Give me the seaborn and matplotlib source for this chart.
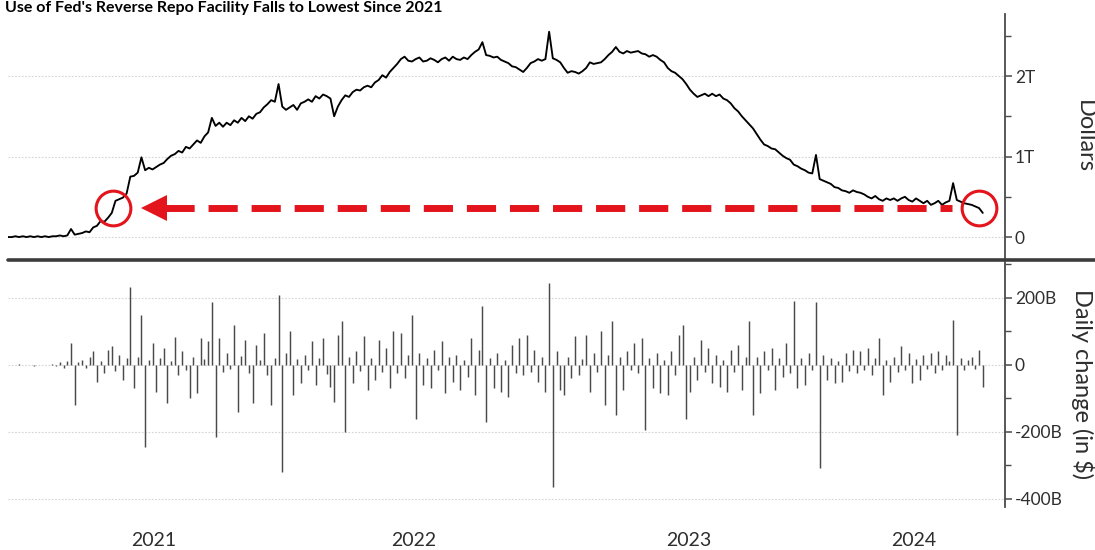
import numpy as np
import pandas as pd
import matplotlib
matplotlib.use("Agg")
import matplotlib.pyplot as plt
from matplotlib.lines import Line2D
from matplotlib.ticker import FixedLocator, MultipleLocator, FixedFormatter
import seaborn as sns

# Overnight reverse repo usage (trillions of dollars), one reading every 5 days from 2021-01-01
start_date = "2021-01-01"
step = "5D"
level_trn = [
    0.00, 0.00, 0.01, 0.00, 0.01, 0.00, 0.01, 0.00, 0.01, 0.00,
    0.01, 0.00, 0.01, 0.01, 0.02, 0.01, 0.02, 0.10, 0.03, 0.04,
    0.05, 0.07, 0.06, 0.12, 0.14, 0.20, 0.19, 0.24, 0.30, 0.45,
    0.47, 0.49, 0.54, 0.75, 0.76, 0.80, 0.99, 0.83, 0.86, 0.84,
    0.87, 0.90, 0.92, 0.97, 1.01, 1.03, 1.07, 1.05, 1.12, 1.10,
    1.15, 1.20, 1.17, 1.25, 1.30, 1.48, 1.38, 1.42, 1.37, 1.42,
    1.39, 1.45, 1.42, 1.48, 1.44, 1.50, 1.47, 1.53, 1.55, 1.61,
    1.65, 1.70, 1.68, 1.90, 1.62, 1.58, 1.61, 1.64, 1.58, 1.66,
    1.68, 1.71, 1.68, 1.75, 1.72, 1.77, 1.75, 1.72, 1.50, 1.62,
    1.70, 1.76, 1.74, 1.80, 1.83, 1.82, 1.86, 1.88, 1.86, 1.92,
    1.95, 2.01, 1.98, 2.05, 2.10, 2.15, 2.21, 2.24, 2.19, 2.18,
    2.21, 2.23, 2.18, 2.19, 2.22, 2.20, 2.17, 2.21, 2.23, 2.19,
    2.24, 2.21, 2.20, 2.23, 2.21, 2.26, 2.30, 2.33, 2.42, 2.26,
    2.25, 2.23, 2.24, 2.20, 2.18, 2.16, 2.12, 2.11, 2.08, 2.05,
    2.10, 2.16, 2.18, 2.21, 2.19, 2.21, 2.55, 2.22, 2.20, 2.17,
    2.10, 2.04, 2.06, 2.05, 2.03, 2.06, 2.10, 2.17, 2.15, 2.16,
    2.17, 2.21, 2.26, 2.30, 2.36, 2.30, 2.28, 2.31, 2.29, 2.30,
    2.31, 2.28, 2.27, 2.24, 2.26, 2.24, 2.20, 2.17, 2.10, 2.06,
    2.04, 2.00, 1.96, 1.90, 1.83, 1.78, 1.74, 1.76, 1.78, 1.75,
    1.78, 1.75, 1.77, 1.72, 1.70, 1.66, 1.60, 1.56, 1.50, 1.45,
    1.40, 1.35, 1.28, 1.21, 1.15, 1.13, 1.10, 1.09, 1.05, 1.01,
    0.98, 0.96, 0.90, 0.88, 0.85, 0.83, 0.80, 0.79, 1.02, 0.72,
    0.70, 0.68, 0.66, 0.62, 0.61, 0.58, 0.57, 0.55, 0.58, 0.56,
    0.55, 0.53, 0.50, 0.48, 0.51, 0.47, 0.45, 0.48, 0.46, 0.48,
    0.45, 0.48, 0.50, 0.46, 0.44, 0.48, 0.45, 0.42, 0.45, 0.40,
    0.42, 0.45, 0.40, 0.43, 0.45, 0.67, 0.46, 0.44, 0.42, 0.41,
    0.40, 0.38, 0.36, 0.30,
]

# Change between readings (billions of dollars)
change_bn = [
    0, 1, -1, 2, -1, 1, 0, -2, 1, 0,
    1, -1, 2, -2, 8, -10, 12, 66, -120, 10,
    15, -8, 25, 40, -50, 12, -25, 45, 55, -18,
    30, -45, 20, 233, -70, 25, 150, -245, 15, 66,
    -80, 22, 50, -113, 12, 84, -30, 40, -15, -100,
    25, -85, 80, 18, 70, 188, -215, 80, -20, 35,
    -12, 120, -140, 28, 75, -25, -113, 60, 15, 95,
    -30, -120, 20, 209, -320, 35, 100, -90, 18, -55,
    30, -15, 70, -60, 22, 80, -28, -65, -110, 90,
    130, -200, 25, -55, 40, -18, 85, -75, 20, -45,
    75, -20, 50, -70, 100, -25, 95, -40, 30, 150,
    -160, 35, -60, 20, -70, 45, -15, 70, -85, 25,
    -50, 30, -75, 15, -35, 80, -90, 45, 175, -170,
    20, -70, 35, -80, 15, -95, 60, -25, 80, -30,
    90, -20, 45, -50, 25, -80, 245, -365, 40, -75,
    -90, 25, -40, 85, -30, 18, 90, -80, 35, -20,
    100, -120, 30, 130, -150, 25, -75, 40, -15, 65,
    -25, 80, -195, 20, -70, 35, -85, 15, -90, 40,
    -30, 90, 120, -160, -80, 25, -45, 75, -20, 50,
    -55, 30, -65, 15, -80, 45, -20, 60, -75, 25,
    130, -150, 25, -85, 40, -15, 50, -75, 20, -35,
    65, -25, 190, -70, 20, -60, 35, -15, 188, -307,
    30, -45, 20, -55, 12, -50, 35, -18, 45, -25,
    40, -15, 50, -30, 20, 80, -90, 15, -50, 25,
    -20, 55, -15, 35, -55, 18, -45, 30, -12, 35,
    -25, 40, -15, 30, 12, 135, -210, 20, -15, 15,
    25, -12, 45, -66,
]

year_labels = ["2021", "2022", "2023", "2024"]
year_label_dates = ["2021-07-17", "2022-07-02", "2023-07-08", "2024-05-07"]
top_ticks = [0, 1, 2]
top_tick_labels = ["0", "1T", "2T"]
bottom_ticks = [-400, -200, 0, 200]
bottom_tick_labels = ["-400B", "-200B", "0", "200B"]
title = "Use of Fed's Reverse Repo Facility Falls to Lowest Since 2021"

sns.set_theme(style="white")
plt.rcParams["font.family"] = ["Lato", "DejaVu Sans"]

dates = pd.date_range(start_date, periods=len(level_trn), freq=step)
df = pd.DataFrame({"date": dates, "level": level_trn, "change": change_bn})

W, H = 1095, 550
fig = plt.figure(figsize=(W / 100, H / 100), dpi=100)
ax_top = fig.add_axes([8 / W, 1 - 258 / H, 997 / W, 244 / H])
ax_bot = fig.add_axes([8 / W, 1 - 507 / H, 997 / W, 245 / H])

x_min = pd.Timestamp("2021-01-01")
x_max = pd.Timestamp("2024-09-07")

AXIS_GREY = "#4a4a4a"
TEXT_GREY = "#2e2e2e"
RED = "#e3141b"

# Level line
sns.lineplot(data=df, x="date", y="level", ax=ax_top, color="black", linewidth=1.35)

# Daily change bars
ax_bot.vlines(df["date"], 0, df["change"], color="#4a4a4a", linewidth=1.05)

for ax in (ax_top, ax_bot):
    ax.set_xlim(x_min, x_max)
    for side in ("top", "left", "bottom"):
        ax.spines[side].set_visible(False)
    ax.spines["right"].set_color(AXIS_GREY)
    ax.spines["right"].set_linewidth(1.3)
    ax.yaxis.tick_right()
    ax.yaxis.set_label_position("right")
    ax.tick_params(axis="y", which="major", direction="out", length=5, width=1.1,
                   color=AXIS_GREY, labelsize=12.5, labelcolor=TEXT_GREY, pad=2)
    ax.tick_params(axis="y", which="minor", direction="out", length=4, width=1.0,
                   color=AXIS_GREY)
    ax.grid(axis="y", which="major", color="#d4d4d4", linewidth=0.8, linestyle=(0, (1.5, 1.5)))
    ax.set_xlabel("")

ax_top.set_ylim(-0.26, 2.77)
ax_top.yaxis.set_major_locator(FixedLocator(top_ticks))
ax_top.yaxis.set_major_formatter(FixedFormatter(top_tick_labels))
ax_top.yaxis.set_minor_locator(MultipleLocator(0.5))
ax_top.tick_params(axis="x", length=0, labelbottom=False)
ax_top.set_ylabel("Dollars", rotation=-90, fontsize=17, color=TEXT_GREY)
ax_top.yaxis.set_label_coords(1.09, 0.5)

ax_bot.set_ylim(-424, 307)
ax_bot.yaxis.set_major_locator(FixedLocator(bottom_ticks))
ax_bot.yaxis.set_major_formatter(FixedFormatter(bottom_tick_labels))
ax_bot.yaxis.set_minor_locator(MultipleLocator(100))
ax_bot.set_xticks(pd.to_datetime(year_label_dates))
ax_bot.set_xticklabels(year_labels)
ax_bot.tick_params(axis="x", length=0, pad=18, labelsize=14, labelcolor=TEXT_GREY)
ax_bot.set_ylabel("Daily change (in $)", rotation=-90, fontsize=17, color=TEXT_GREY)
ax_bot.yaxis.set_label_coords(1.09, 0.5)

# Red markup: latest level traced back to the first time it was reached
latest = df["level"].iloc[-2]
right_date = df["date"].iloc[-2]
k = int(np.argmax(df["level"].values >= latest))
d0, d1 = df["date"].iloc[k - 1], df["date"].iloc[k]
v0, v1 = df["level"].iloc[k - 1], df["level"].iloc[k]
left_date = d0 + (d1 - d0) * ((latest - v0) / (v1 - v0))

for d in (left_date, right_date):
    ax_top.plot([d], [latest], marker="o", markersize=25, markerfacecolor="none",
                markeredgecolor=RED, markeredgewidth=2.2, zorder=5)

head_date = left_date + pd.Timedelta(days=55)
ax_top.plot([head_date + pd.Timedelta(days=15), right_date - pd.Timedelta(days=36)],
            [latest, latest], color=RED, linewidth=5, linestyle=(0, (4.2, 2.0)),
            solid_capstyle="butt", dash_capstyle="butt", zorder=4)
ax_top.plot([head_date], [latest], marker="<", markersize=19, color=RED,
            markeredgewidth=0, zorder=4)

# Heavy divider between the panels
fig.add_artist(Line2D([8 / W, 1.0], [1 - 260 / H, 1 - 260 / H], transform=fig.transFigure,
                      color="#3c3c3c", linewidth=2.6))

fig.text(5 / W, 1 - 12 / H, title, fontsize=11.5, fontweight="bold", color="black",
         ha="left", va="baseline")

fig.savefig("out.png", dpi=100)
